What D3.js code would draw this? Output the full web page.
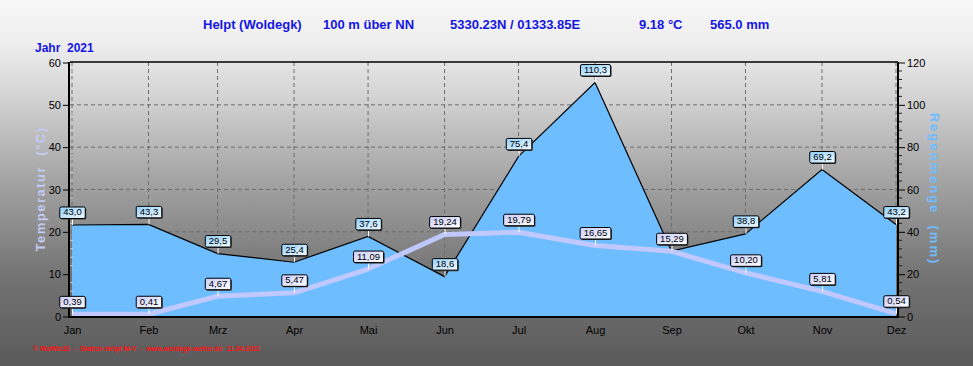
<!DOCTYPE html>
<html><head><meta charset="utf-8">
<script src="https://cdn.jsdelivr.net/npm/d3@7/dist/d3.min.js"></script>
<style>body{margin:0;padding:0;overflow:hidden}svg{display:block}</style>
</head><body>
<script>
const months = ["Jan","Feb","Mrz","Apr","Mai","Jun","Jul","Aug","Sep","Okt","Nov","Dez"];
const rain = [43.0,43.3,29.5,25.4,37.6,18.6,75.4,110.3,30.7,38.8,69.2,43.2];
const temp = [0.39,0.41,4.67,5.47,11.09,19.24,19.79,16.65,15.29,10.20,5.81,0.54];
const tempTicks = [0,10,20,30,40,50,60];
const rainTicks = [0,20,40,60,80,100,120];
const titleParts = ["Helpt (Woldegk)","100 m über NN","5330.23N / 01333.85E","9.18 °C","565.0 mm"];
const yearLabel = "Jahr  2021";
const footer = "© WsWin32  -  Station Helpt M-V  -  www.woldegk-wetter.de  11.04.2022";

const W=973,H=366;
const svg=d3.select("body").append("svg").attr("width",W).attr("height",H);
const defs=svg.append("defs");
const bg=defs.append("linearGradient").attr("id","bg").attr("x1",0).attr("y1",0).attr("x2",0).attr("y2",1);
[[0,"#f7f7f7"],[0.12,"#eeeeee"],[0.25,"#d6d6d6"],[0.5,"#a2a2a2"],[0.75,"#747474"],[1,"#5a5a5a"]].forEach(s=>bg.append("stop").attr("offset",s[0]).attr("stop-color",s[1]));
const lbR=defs.append("linearGradient").attr("id","lbR").attr("x1",0).attr("y1",0).attr("x2",1).attr("y2",1);
lbR.append("stop").attr("offset",0).attr("stop-color","#8fd0ff");
lbR.append("stop").attr("offset",1).attr("stop-color","#f4fbff");
const lbT=defs.append("linearGradient").attr("id","lbT").attr("x1",0).attr("y1",0).attr("x2",1).attr("y2",1);
lbT.append("stop").attr("offset",0).attr("stop-color","#c8ccff");
lbT.append("stop").attr("offset",1).attr("stop-color","#ffffff");

svg.append("rect").attr("width",W).attr("height",H).attr("fill","url(#bg)");

const L=70,R=898,T=62,B=316;
const dates=months.map((m,i)=>new Date(2021,i,1));
const x=d3.scaleTime().domain([dates[0],dates[11]]).range([72,896]);
const yT=d3.scaleLinear().domain([0,60]).range([B,T]);
const yR=d3.scaleLinear().domain([0,120]).range([B,T]);
const font="Liberation Sans, Arial, sans-serif";

// grid
const g=svg.append("g");
g.selectAll(".vg").data(dates).join("line")
  .attr("x1",d=>x(d)).attr("x2",d=>x(d)).attr("y1",T).attr("y2",B)
  .attr("stroke","#6e6e6e").attr("stroke-dasharray","4,3").attr("stroke-width",1);
g.selectAll(".hg").data(tempTicks.slice(1,-1)).join("line")
  .attr("x1",L).attr("x2",R).attr("y1",d=>yT(d)+0.5).attr("y2",d=>yT(d)+0.5)
  .attr("stroke","#6e6e6e").attr("stroke-dasharray","4,3").attr("stroke-width",1);

// rain area
const area=d3.area().x((d,i)=>x(dates[i])).y0(B).y1(d=>yR(d));
svg.append("path").datum(rain).attr("d",area).attr("fill","#6dbdff");
const rl=d3.line().x((d,i)=>x(dates[i])).y(d=>yR(d));
svg.append("path").datum(rain).attr("d",rl).attr("fill","none").attr("stroke","#000").attr("stroke-width",1.2);

// temp line
const tl=d3.line().x((d,i)=>x(dates[i])).y(d=>yT(d));
svg.append("path").datum(temp).attr("d",tl).attr("fill","none").attr("stroke","#bfc8ff").attr("stroke-width",5).attr("stroke-linejoin","round");

// frame
svg.append("line").attr("x1",L).attr("x2",R).attr("y1",T).attr("y2",T).attr("stroke","#000").attr("stroke-width",1.5);
svg.append("line").attr("x1",L-1).attr("x2",R+1).attr("y1",B+1).attr("y2",B+1).attr("stroke","#000").attr("stroke-width",2);
svg.append("line").attr("x1",L-1).attr("x2",L-1).attr("y1",T).attr("y2",B+2).attr("stroke","#000").attr("stroke-width",2);
svg.append("line").attr("x1",R).attr("x2",R).attr("y1",T).attr("y2",B+2).attr("stroke","#000").attr("stroke-width",2);

// left axis
const la=svg.append("g").attr("transform",`translate(${L-2},0.5)`).call(d3.axisLeft(yT).tickValues(tempTicks).tickSize(5).tickPadding(2));
la.select(".domain").remove();
la.selectAll("text").attr("font-family",font).attr("font-size",11).attr("fill","#000");
la.selectAll("line").attr("stroke","#000");
svg.selectAll(".mtl").data(d3.range(2,60,2).filter(v=>v%10)).join("line")
  .attr("x1",L).attr("x2",L+3).attr("y1",d=>yT(d)+0.5).attr("y2",d=>yT(d)+0.5).attr("stroke","#ccc");
svg.selectAll(".mtr").data(d3.range(2,60,2).filter(v=>v%10)).join("line")
  .attr("x1",R+1).attr("x2",R+4).attr("y1",d=>yT(d)+0.5).attr("y2",d=>yT(d)+0.5).attr("stroke","#222");
// right axis
const ra=svg.append("g").attr("transform",`translate(${R+1},0.5)`).call(d3.axisRight(yR).tickValues(rainTicks).tickSize(6).tickPadding(2));
ra.select(".domain").remove();
ra.selectAll("text").attr("font-family",font).attr("font-size",11).attr("fill","#000");
ra.selectAll("line").attr("stroke","#000");
// bottom axis
const ba=svg.append("g").attr("transform",`translate(0,${B+2})`).call(d3.axisBottom(x).tickValues(dates).tickFormat((d,i)=>months[i]).tickSize(0).tickPadding(8));
ba.select(".domain").remove();
ba.selectAll("text").attr("font-family",font).attr("font-size",11).attr("fill","#000");

// labels (drawn over the frame); a rain label hidden under the temperature label is skipped
function labels(data,yS,fill,digits,skip){
  const grp=svg.append("g");
  data.forEach((v,i)=>{
    if(skip && skip(i)) return;
    const px=x(dates[i]), py=yS(v);
    const str=v.toFixed(digits).replace(".",",");
    const gg=grp.append("g");
    gg.append("line").attr("x1",px+0.5).attr("x2",px+0.5).attr("y1",py-6).attr("y2",py).attr("stroke","#fff").attr("stroke-width",1);
    const t=gg.append("text").attr("x",px+0.5).attr("y",py-9.5).attr("text-anchor","middle")
      .attr("font-family",font).attr("font-size",9.5).attr("fill","#000").text(str);
    const w=t.node().getComputedTextLength()+7;
    gg.insert("rect","text").attr("x",px-w/2+1.5).attr("y",py-17).attr("width",w).attr("height",11.5).attr("fill","#333").attr("rx",1.5);
    gg.insert("rect","text").attr("x",px-w/2+0.5).attr("y",py-18).attr("width",w).attr("height",11.5).attr("fill",fill).attr("stroke","#000").attr("stroke-width",1).attr("rx",1.5);
  });
}
labels(rain,yR,"url(#lbR)",1,i=>Math.abs(yR(rain[i])-yT(temp[i]))<12);
labels(temp,yT,"url(#lbT)",2);

// axis titles
svg.append("text").attr("transform",`translate(45,${(T+B)/2}) rotate(-90)`).attr("text-anchor","middle")
  .attr("font-family",font).attr("font-weight","bold").attr("font-size",13).attr("letter-spacing",1.5).attr("fill","#c3caf2").style("white-space","pre").text("Temperatur  (°C)");
svg.append("text").attr("transform",`translate(930,${(T+B)/2}) rotate(90)`).attr("text-anchor","middle")
  .attr("font-family",font).attr("font-weight","bold").attr("font-size",13).attr("letter-spacing",2).attr("fill","#6fbdff").style("white-space","pre").text("Regenmenge  (mm)");

// title
const tx=[203,323,450,639,710];
svg.selectAll(".tt").data(titleParts).join("text").attr("x",(d,i)=>tx[i]).attr("y",29)
  .attr("font-family",font).attr("font-weight","bold").attr("font-size",13).attr("fill","#1515e6").text(d=>d);
svg.append("text").attr("x",35).attr("y",52).attr("font-family",font).attr("font-weight","bold").attr("font-size",12).attr("fill","#1515e6").style("white-space","pre").text(yearLabel);
svg.append("text").attr("x",33).attr("y",351).attr("font-family",font).attr("font-weight","bold").attr("font-size",7.5).attr("fill","#ff1010").style("white-space","pre").attr("textLength",227).attr("lengthAdjust","spacingAndGlyphs").text(footer);
</script>
</body></html>
